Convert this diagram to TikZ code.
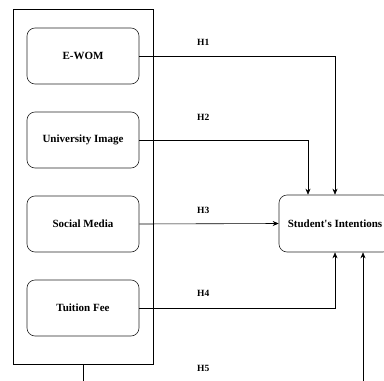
\documentclass[tikz,border=0pt]{standalone}
\usepackage{fontspec}
\setmainfont{Liberation Serif}
\usetikzlibrary{arrows.meta}
\begin{document}
\begin{tikzpicture}[x=1pt,y=-1pt,
		every node/.style={font=\fontsize{11}{13}\selectfont\bfseries},
		factor/.style={draw=black!85,line width=0.6pt,rounded corners=8pt,minimum width=112pt,minimum height=56pt,inner sep=0pt},
		hlabel/.style={anchor=west,inner sep=0pt,font=\fontsize{9.5}{11}\selectfont\bfseries},
		link/.style={line width=0.6pt,-{Stealth[length=6pt,width=5pt]}}]
		\useasboundingbox (0,0) rectangle (384,381);
		% independent variables
		\node [draw,line width=0.6pt,minimum width=140pt,minimum height=355pt,inner sep=0pt] (group) at (83,186.5) {};
		\node [factor] (ewom) at (83,56) {E-WOM};
		\node [factor] (image) at (83,140) {University Image};
		\node [factor] (social) at (83,224) {Social Media};
		\node [factor] (fee) at (83,308) {Tuition Fee};
		% dependent variable
		\node [factor,minimum height=57pt] (intent) at (335,223.5) {Student\textquotesingle s Intentions};
		\coordinate (stem) at (83,381);
		\coordinate (foot) at (363,381);
		% hypotheses
		\draw [link] (ewom.east) -| (intent.north);
		\draw [link] (image.east) -| ([xshift=-27pt]intent.north);
		\draw [link] (social.east) -- (intent.west);
		\draw [link] (fee.east) -| (intent.south);
		\draw [line width=0.6pt] (group.south) -- (stem);
		\draw [link] (foot) -- ([xshift=28pt]intent.south);
		\node [hlabel] (h1) at (197,42) {H1};
		\node [hlabel] (h2) at (197,117) {H2};
		\node [hlabel] (h3) at (197,210) {H3};
		\node [hlabel] (h4) at (197,293) {H4};
		\node [hlabel] (h5) at (197,368) {H5};
	\end{tikzpicture}
\end{document}
